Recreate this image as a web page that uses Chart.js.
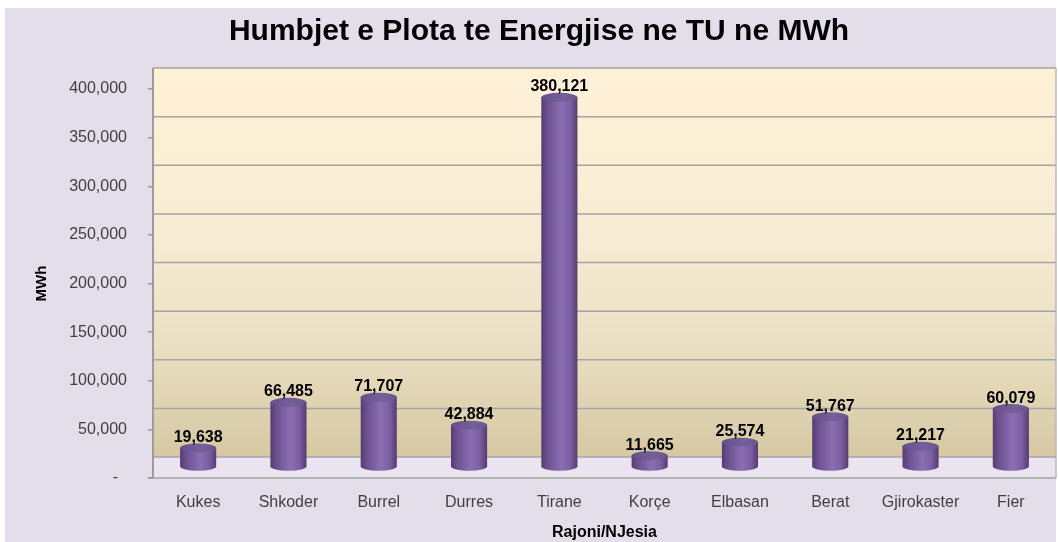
<!DOCTYPE html>
<html>
<head>
<meta charset="utf-8">
<script src="https://cdn.jsdelivr.net/npm/chart.js@4"></script>
<style>
html,body{margin:0;padding:0;background:#fff;}
#wrap{width:1058px;height:542px;position:relative;}
</style>
</head>
<body>
<div id="wrap"><canvas id="c" width="1058" height="542"></canvas></div>
<script>
const categories = ['Kukes','Shkoder','Burrel','Durres','Tirane','Korçe','Elbasan','Berat','Gjirokaster','Fier'];
const losses = [19638, 66485, 71707, 42884, 380121, 11665, 25574, 51767, 21217, 60079];
const yTickValues = [0, 50000, 100000, 150000, 200000, 250000, 300000, 350000, 400000];
const chartTitle = 'Humbjet e Plota te Energjise ne TU ne MWh';
const xTitle = 'Rajoni/NJesia';
const yTitle = 'MWh';

function fmt(v){ return String(Math.round(v)).replace(/\B(?=(\d{3})+(?!\d))/g, ','); }

const WALL_DEPTH = 21;   // back wall offset (px)
const BAR_DEPTH = 11;    // bar base offset (px)
const RY = 4.5;          // ellipse radius y

const scene = {
  id: 'scene',
  beforeDraw(chart){
    const {ctx, chartArea: a, scales: {y}} = chart;
    ctx.save();
    ctx.fillStyle = '#ffffff';
    ctx.fillRect(0, 0, chart.width, chart.height);
    ctx.fillStyle = '#e4deeb';
    ctx.fillRect(5, 8, chart.width - 7, chart.height - 8);

    const top = y.getPixelForValue(y.max) - WALL_DEPTH;
    const back = y.getPixelForValue(0) - WALL_DEPTH;
    const g = ctx.createLinearGradient(0, top, 0, back);
    g.addColorStop(0, '#fef1d8');
    g.addColorStop(0.45, '#f7ecd3');
    g.addColorStop(0.7, '#ebe0c4');
    g.addColorStop(1, '#d6c8a3');
    ctx.fillStyle = g;
    ctx.fillRect(a.left, top, a.right - a.left, back - top);

    // floor
    ctx.fillStyle = '#e9e4ef';
    ctx.fillRect(a.left, back, a.right - a.left, a.bottom - back);

    ctx.strokeStyle = '#a4a4a4';
    ctx.lineWidth = 1.5;
    y.ticks.forEach(t => {
      const py = y.getPixelForValue(t.value) - WALL_DEPTH;
      ctx.beginPath(); ctx.moveTo(a.left, py); ctx.lineTo(a.right, py); ctx.stroke();
    });
    // floor front edge
    ctx.beginPath(); ctx.moveTo(a.left - 5, a.bottom); ctx.lineTo(a.right, a.bottom); ctx.stroke();
    // right edges
    ctx.strokeStyle = '#b8b4bc';
    ctx.beginPath(); ctx.moveTo(a.right, top); ctx.lineTo(a.right, a.bottom); ctx.stroke();
    // left wall
    ctx.strokeStyle = '#9c9c9c';
    ctx.lineWidth = 2;
    ctx.beginPath(); ctx.moveTo(a.left, top); ctx.lineTo(a.left, a.bottom); ctx.stroke();
    ctx.restore();
  },
  afterDatasetsDraw(chart){
    const {ctx} = chart;
    const meta = chart.getDatasetMeta(0);
    ctx.save();
    meta.data.forEach((bar, i) => {
      const {x, y, base, width} = bar.getProps(['x','y','base','width'], true);
      const rx = width / 2;
      const yt = y - BAR_DEPTH, yb = base - BAR_DEPTH;
      const g = ctx.createLinearGradient(x - rx, 0, x + rx, 0);
      g.addColorStop(0, '#553c73');
      g.addColorStop(0.15, '#6a4f8d');
      g.addColorStop(0.55, '#8b6db1');
      g.addColorStop(0.8, '#7c5fa2');
      g.addColorStop(1, '#553b72');
      ctx.fillStyle = g;
      ctx.beginPath();
      ctx.moveTo(x - rx, yt);
      ctx.lineTo(x - rx, yb);
      ctx.ellipse(x, yb, rx, RY, 0, Math.PI, 0, true);
      ctx.lineTo(x + rx, yt);
      ctx.closePath();
      ctx.fill();
      // top ellipse
      const gt = ctx.createLinearGradient(x - rx, 0, x + rx, 0);
      gt.addColorStop(0, '#65508a');
      gt.addColorStop(0.6, '#76609a');
      gt.addColorStop(1, '#6a548e');
      ctx.fillStyle = gt;
      ctx.beginPath();
      ctx.ellipse(x, yt, rx, RY, 0, 0, Math.PI * 2);
      ctx.fill();
      // label
      ctx.fillStyle = '#000';
      ctx.font = 'bold 16px "Liberation Sans", Arial, sans-serif';
      ctx.textAlign = 'center';
      ctx.textBaseline = 'alphabetic';
      ctx.fillText(fmt(losses[i]), x, yt - RY - 1.5);
    });
    ctx.restore();
  }
};

new Chart(document.getElementById('c'), {
  type: 'bar',
  data: {
    labels: categories,
    datasets: [{
      data: losses,
      backgroundColor: 'rgba(0,0,0,0)',
      borderWidth: 0,
      barPercentage: 0.5,
      categoryPercentage: 0.8
    }]
  },
  options: {
    responsive: false,
    animation: false,
    devicePixelRatio: 1,
    layout: { padding: { left: 22, right: 2, top: 0, bottom: 0 } },
    plugins: {
      legend: { display: false },
      tooltip: { enabled: false },
      title: {
        display: true,
        text: chartTitle,
        color: '#000',
        font: { family: '"Liberation Sans", Arial, sans-serif', size: 30, weight: 'bold', lineHeight: 1.2 },
        padding: { top: 14, bottom: 39 }
      }
    },
    scales: {
      x: {
        grid: { display: false },
        border: { display: false },
        ticks: {
          color: '#404040',
          font: { family: '"Liberation Sans", Arial, sans-serif', size: 16 },
          padding: 7,
          maxRotation: 0
        },
        title: {
          display: true,
          text: xTitle,
          color: '#000',
          font: { family: '"Liberation Sans", Arial, sans-serif', size: 16, weight: 'bold', lineHeight: 1.2 },
          padding: { top: 0, bottom: 0 }
        },
        afterFit(scale){ scale.height = 64; }
      },
      y: {
        min: 0,
        max: 400000,
        afterBuildTicks(scale){ scale.ticks = yTickValues.map(v => ({value: v})); },
        grid: { drawOnChartArea: false, drawTicks: true, tickLength: 5, color: '#999', lineWidth: 1.5 },
        border: { display: false },
        ticks: {
          color: '#404040',
          font: { family: '"Liberation Sans", Arial, sans-serif', size: 16 },
          padding: 21,
          callback: v => v === 0 ? '-  ' : fmt(v)
        },
        title: {
          display: true,
          text: yTitle,
          color: '#000',
          font: { family: '"Liberation Sans", Arial, sans-serif', size: 15, weight: 'bold', lineHeight: 1.2 },
          padding: { top: 11, bottom: 0 }
        },
        afterFit(scale){ scale.width = 131; }
      }
    }
  },
  plugins: [scene]
});
</script>
</body>
</html>
